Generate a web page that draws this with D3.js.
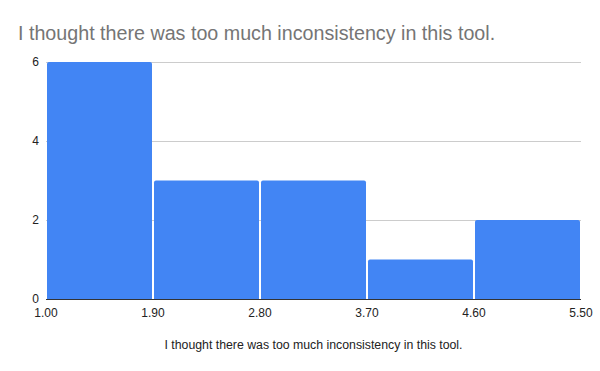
<!DOCTYPE html>
<html>
<head>
<meta charset="utf-8">
<script src="https://cdn.jsdelivr.net/npm/d3@7"></script>
<style>
  body { margin: 0; background: #fff; }
  svg { display: block; font-family: Arial, "Liberation Sans", sans-serif; }
</style>
</head>
<body>
<svg id="chart" width="600" height="371"></svg>
<script>
const title = 'I thought there was too much inconsistency in this tool.';
const binEdges = [1.0, 1.9, 2.8, 3.7, 4.6, 5.5];
const counts = [6, 3, 3, 1, 2];
const yTicks = [0, 2, 4, 6];

const svg = d3.select('#chart');
const width = 600;
const height = 371;
const margin = { top: 62, right: 19, bottom: 72, left: 46 };

const x = d3.scaleLinear()
  .domain([binEdges[0], binEdges[binEdges.length - 1]])
  .range([margin.left, width - margin.right]);
const y = d3.scaleLinear()
  .domain([0, 6])
  .range([height - margin.bottom, margin.top]);

svg.append('rect').attr('width', width).attr('height', height).attr('fill', '#fff');

// title
svg.append('text')
  .attr('x', 18)
  .attr('y', 40)
  .attr('fill', '#757575')
  .attr('font-size', 19.7)
  .text(title);

// gridlines
svg.append('g')
  .selectAll('line')
  .data(yTicks.filter(d => d > 0))
  .join('line')
  .attr('x1', margin.left)
  .attr('x2', width - margin.right)
  .attr('y1', d => Math.round(y(d)) + 0.5)
  .attr('y2', d => Math.round(y(d)) + 0.5)
  .attr('stroke', '#cccccc')
  .attr('stroke-width', 1);

// y labels
svg.append('g')
  .selectAll('text')
  .data(yTicks)
  .join('text')
  .attr('x', 39)
  .attr('y', d => y(d) + 4)
  .attr('text-anchor', 'end')
  .attr('font-size', 12)
  .attr('fill', '#222')
  .text(d => d);

// bars
const bins = counts.map((c, i) => ({ x0: binEdges[i], x1: binEdges[i + 1], count: c }));
svg.append('g')
  .selectAll('path')
  .data(bins)
  .join('path')
  .attr('fill', '#4285f4')
  .attr('d', d => {
    const x0 = x(d.x0) + 1, x1 = x(d.x1) - 1;
    const y0 = y(0), y1 = y(d.count);
    const r = 2;
    return `M${x0},${y0}V${y1 + r}Q${x0},${y1} ${x0 + r},${y1}H${x1 - r}Q${x1},${y1} ${x1},${y1 + r}V${y0}Z`;
  });

// baseline
svg.append('line')
  .attr('x1', margin.left)
  .attr('x2', width - margin.right)
  .attr('y1', y(0) + 0.5)
  .attr('y2', y(0) + 0.5)
  .attr('stroke', '#333')
  .attr('stroke-width', 1);

// x tick labels
svg.append('g')
  .selectAll('text')
  .data(binEdges)
  .join('text')
  .attr('x', d => x(d))
  .attr('y', y(0) + 18)
  .attr('text-anchor', 'middle')
  .attr('font-size', 12)
  .attr('fill', '#222')
  .text(d => d.toFixed(2));

// x axis title
svg.append('text')
  .attr('x', (margin.left + width - margin.right) / 2)
  .attr('y', 349)
  .attr('text-anchor', 'middle')
  .attr('font-size', 12.3)
  .attr('fill', '#222')
  .text(title);
</script>
</body>
</html>
